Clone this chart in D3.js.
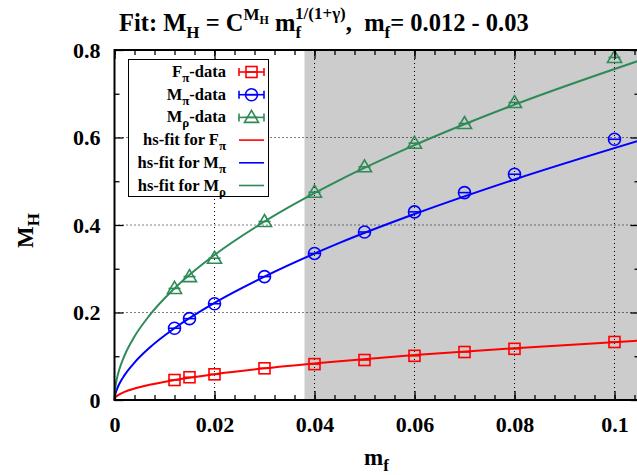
<!DOCTYPE html>
<html><head><meta charset="utf-8">
<script src="https://cdn.jsdelivr.net/npm/d3@7"></script>
<style>
body{margin:0;background:#fff;}
svg{display:block;font-family:"Liberation Serif","Times New Roman",serif;font-weight:bold;}
</style></head>
<body><svg id="c" width="637" height="475"></svg>
<script>
// ---- data ----
const mf = [0.012, 0.015, 0.02, 0.03, 0.04, 0.05, 0.06, 0.07, 0.08, 0.1];
const fpiData = [0.0457, 0.052, 0.0587, 0.0724, 0.082, 0.0914, 0.101, 0.1097, 0.117, 0.1326];
const mpiData = [0.164, 0.186, 0.220, 0.282, 0.335, 0.384, 0.430, 0.474, 0.516, 0.596];
const mrhoData = [0.255, 0.282, 0.324, 0.408, 0.475, 0.533, 0.587, 0.632, 0.680, 0.783];
const fitX = [0, 0.0002, 0.0005, 0.001, 0.002, 0.004, 0.007, 0.012, 0.02, 0.03, 0.045, 0.06, 0.08, 0.105];
const fitFpi = [0, 0.0059, 0.0093, 0.0131, 0.0186, 0.0263, 0.0349, 0.0457, 0.0591, 0.0724, 0.0887, 0.1026, 0.1185, 0.1358];
const fitMpi = [0, 0.0145, 0.0250, 0.0377, 0.0568, 0.0856, 0.1193, 0.164, 0.222, 0.282, 0.359, 0.425, 0.504, 0.593];
const fitMrho = [0, 0.0312, 0.0500, 0.0713, 0.1017, 0.1452, 0.1933, 0.255, 0.3315, 0.408, 0.5026, 0.5825, 0.675, 0.776];
const shadeFrom = 0.038;
const xTicks = [0, 0.02, 0.04, 0.06, 0.08, 0.1];
const xTickLabels = ["0", "0.02", "0.04", "0.06", "0.08", "0.1"];
const yTicks = [0, 0.2, 0.4, 0.6, 0.8];
const yTickLabels = ["0", "0.2", "0.4", "0.6", "0.8"];
const xMinor = d3.range(0, 0.1051, 0.004);
const yMinor = [0.1, 0.3, 0.5, 0.7];

const RED = "#ff0000", BLUE = "#0000ff", GREEN = "#2e8b57";

const svg = d3.select("#c");
const L = 114.5, R = 639.5, T = 50, B = 400;
const x = d3.scaleLinear().domain([0, 0.105]).range([L, R]);
const y = d3.scaleLinear().domain([0, 0.8]).range([B, T]);

// shaded region
svg.append("rect").attr("x", x(shadeFrom)).attr("y", T).attr("width", R - x(shadeFrom)).attr("height", B - T).attr("fill", "#cccccc");

// grid
const grid = svg.append("g").attr("stroke", "#000").attr("stroke-width", 1).attr("stroke-dasharray", "1,3");
xTicks.filter(v => v > 0).forEach(v => grid.append("line").attr("x1", x(v)).attr("x2", x(v)).attr("y1", B).attr("y2", T));
yTicks.filter(v => v > 0 && v < 0.8).forEach(v => grid.append("line").attr("x1", L).attr("x2", R).attr("y1", y(v)).attr("y2", y(v)));

// fit curves
const line = d3.line().x(d => x(d[0])).y(d => y(d[1])).curve(d3.curveMonotoneX);
[[fitFpi, RED], [fitMpi, BLUE], [fitMrho, GREEN]].forEach(([arr, col]) => {
  svg.append("path").datum(fitX.map((v, i) => [v, arr[i]])).attr("d", line)
    .attr("fill", "none").attr("stroke", col).attr("stroke-width", 2);
});

// markers
function marker(g, type, cx, cy, col) {
  if (type === "square") g.append("rect").attr("x", cx - 5.5).attr("y", cy - 5.5).attr("width", 11).attr("height", 11);
  else if (type === "circle") g.append("circle").attr("cx", cx).attr("cy", cy).attr("r", 6);
  else g.append("path").attr("d", `M${cx},${cy - 7}L${cx + 7},${cy + 5}L${cx - 7},${cy + 5}Z`);
  g.append("line").attr("x1", cx - 6).attr("x2", cx + 6).attr("y1", cy).attr("y2", cy);
}
const series = [[fpiData, RED, "square"], [mpiData, BLUE, "circle"], [mrhoData, GREEN, "tri"]];
series.forEach(([arr, col, type]) => {
  const g = svg.append("g").attr("fill", "none").attr("stroke", col).attr("stroke-width", 1.6);
  arr.forEach((v, i) => marker(g, type, x(mf[i]), y(v), col));
});

// legend
const lg = svg.append("g");
lg.append("rect").attr("x", 128.5).attr("y", 59.5).attr("width", 140).attr("height", 137).attr("fill", "#fff").attr("stroke", "#000").attr("stroke-width", 1);
const rows = [
  {main: "F", sub: "π", tail: "-data", col: RED, type: "square"},
  {main: "M", sub: "π", tail: "-data", col: BLUE, type: "circle"},
  {main: "M", sub: "ρ", tail: "-data", col: GREEN, type: "tri"},
  {main: "hs-fit for F", sub: "π", tail: "", col: RED},
  {main: "hs-fit for M", sub: "π", tail: "", col: BLUE},
  {main: "hs-fit for M", sub: "ρ", tail: "", col: GREEN}
];
rows.forEach((r, i) => {
  const cy = 72 + i * 22.7;
  const t = lg.append("text").attr("x", 226).attr("y", cy + 5).attr("text-anchor", "end").attr("font-size", 16.5);
  t.append("tspan").text(r.main);
  t.append("tspan").attr("font-size", 13).attr("dy", 5).text(r.sub);
  if (r.tail) t.append("tspan").attr("dy", -5).text(r.tail);
  const g = lg.append("g").attr("stroke", r.col).attr("fill", "none").attr("stroke-width", 1.6);
  g.append("line").attr("x1", 239).attr("x2", 264).attr("y1", cy).attr("y2", cy);
  if (r.type) {
    g.append("line").attr("x1", 239).attr("x2", 239).attr("y1", cy - 4).attr("y2", cy + 4);
    g.append("line").attr("x1", 264).attr("x2", 264).attr("y1", cy - 4).attr("y2", cy + 4);
    marker(g, r.type, 251.5, cy, r.col);
  }
});

// axes
function styleAxis(g) { g.select(".domain").remove(); g.selectAll("line").attr("stroke", "#000").attr("stroke-width", 1.3); }
svg.append("g").attr("transform", `translate(0,${B})`).call(d3.axisBottom(x).tickValues(xMinor).tickSize(-5).tickFormat("")).call(styleAxis);
svg.append("g").attr("transform", `translate(0,${T})`).call(d3.axisTop(x).tickValues(xMinor).tickSize(-5).tickFormat("")).call(styleAxis);
svg.append("g").attr("transform", `translate(${L},0)`).call(d3.axisLeft(y).tickValues(yMinor).tickSize(-5).tickFormat("")).call(styleAxis);
svg.append("g").attr("transform", `translate(${R},0)`).call(d3.axisRight(y).tickValues(yMinor).tickSize(-5).tickFormat("")).call(styleAxis);
svg.append("g").attr("transform", `translate(0,${T})`).call(d3.axisTop(x).tickValues(xTicks).tickSize(-9).tickFormat("")).call(styleAxis);
svg.append("g").attr("transform", `translate(${R},0)`).call(d3.axisRight(y).tickValues(yTicks).tickSize(-9).tickFormat("")).call(styleAxis);
const xa = svg.append("g").attr("transform", `translate(0,${B})`)
  .call(d3.axisBottom(x).tickValues(xTicks).tickSize(-9).tickPadding(16).tickFormat((d, i) => xTickLabels[i])).call(styleAxis);
const ya = svg.append("g").attr("transform", `translate(${L},0)`)
  .call(d3.axisLeft(y).tickValues(yTicks).tickSize(-9).tickPadding(14).tickFormat((d, i) => yTickLabels[i])).call(styleAxis);
[xa, ya].forEach(a => a.selectAll("text").attr("fill", "#000").attr("font-size", 22).attr("font-family", "Liberation Serif, serif").attr("font-weight", "bold"));

// border
svg.append("path").attr("d", `M${L},${T}H${R}V${B}H${L}Z`).attr("fill", "none").attr("stroke", "#000").attr("stroke-width", 2);

// axis labels
const xl = svg.append("text").attr("x", 364).attr("y", 465).attr("font-size", 23);
xl.append("tspan").text("m");
xl.append("tspan").attr("font-size", 17).attr("dy", 6).text("f");
const yl = svg.append("text").attr("transform", "translate(33,248) rotate(-90)").attr("font-size", 23);
yl.append("tspan").text("M");
yl.append("tspan").attr("font-size", 17).attr("dy", 6).text("H");

// title
const tt = svg.append("text").attr("x", 119).attr("y", 31).attr("font-size", 24.5).style("white-space", "pre");
tt.append("tspan").text("Fit: M");
tt.append("tspan").attr("font-size", 17).attr("dy", 7).text("H");
tt.append("tspan").attr("dy", -7).text(" = C");
tt.append("tspan").attr("font-size", 17).attr("dy", -11).text("M");
tt.append("tspan").attr("font-size", 12).attr("dy", 4).text("H");
tt.append("tspan").attr("dy", 7).text(" m");
tt.append("tspan").attr("font-size", 17).attr("dy", 7).text("f");
tt.append("tspan").attr("font-size", 17).attr("dx", -6).attr("dy", -19).text("1/(1+γ)");
tt.append("tspan").attr("dy", 12).text(",  m");
tt.append("tspan").attr("font-size", 17).attr("dy", 7).text("f");
tt.append("tspan").attr("dy", -7).text("= 0.012 - 0.03");
</script></body></html>
